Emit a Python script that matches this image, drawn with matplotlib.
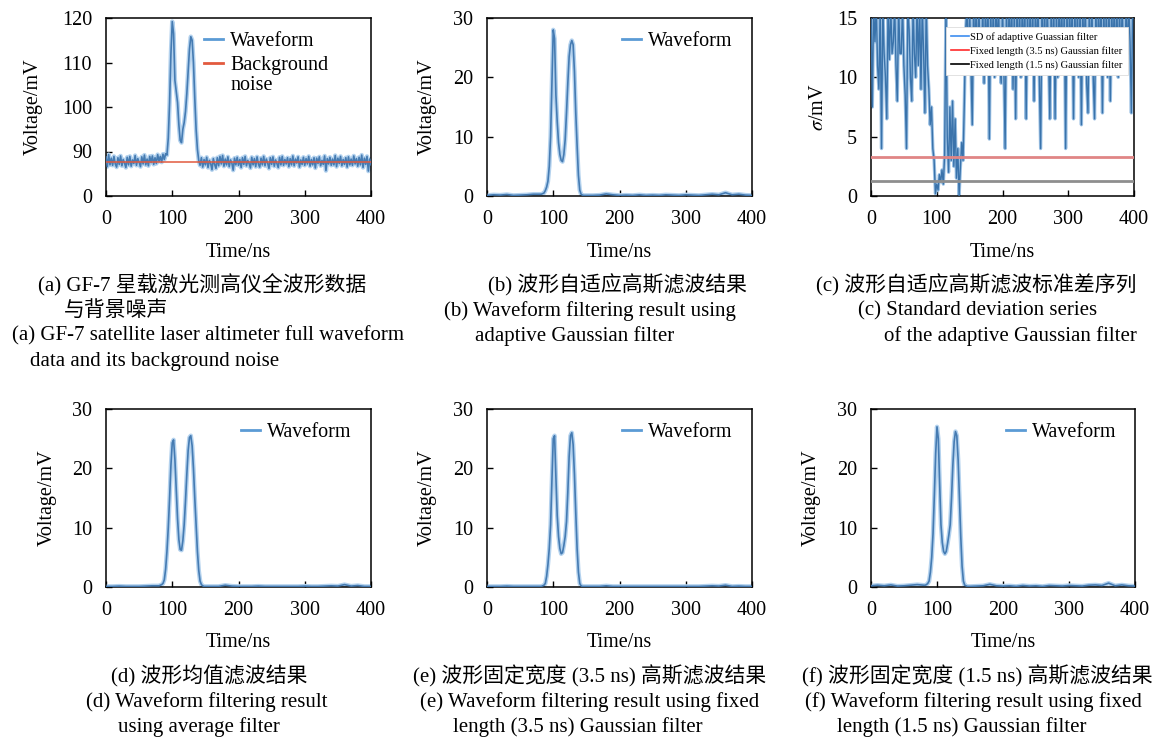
import numpy as np
import matplotlib
matplotlib.use("Agg")
import matplotlib.pyplot as plt
from matplotlib.lines import Line2D

plt.rcParams['font.family'] = ['Liberation Serif', 'Noto Sans CJK SC']
plt.rcParams['mathtext.fontset'] = 'stix'

W, H = 1158, 741

# ---- data -------------------------------------------------------------
# (a) raw waveform, one value every 2 ns from 0 to 400 ns
t_raw = np.arange(0, 401, 2)
raw_wave = [
    88.8, 86.6, 89.3, 87.0, 88.5, 86.9, 88.9, 87.2, 86.5, 88.6,
    87.1, 89.0, 86.8, 88.2, 87.4, 86.4, 88.7, 87.0, 88.9, 86.7,
    88.1, 87.3, 89.1, 86.9, 88.4, 87.6, 86.6, 88.8, 87.2, 89.2,
    87.0, 88.3, 86.8, 88.9, 87.5, 89.0, 87.1, 88.6, 87.3, 89.3,
    87.8, 88.9, 87.6, 89.4, 88.2, 89.5, 89.2, 93.0, 101.0, 112.0,
    119.2, 116.5, 106.0, 103.5, 101.0, 96.0, 92.5, 92.0, 95.0, 96.5,
    99.0, 103.0, 108.0, 113.0, 115.8, 115.0, 110.0, 102.0, 95.0, 90.5,
    88.0, 86.9, 88.6, 86.5, 88.2, 87.0, 88.7, 86.4, 88.0, 87.3,
    85.9, 88.4, 87.1, 86.2, 88.6, 86.8, 88.9, 87.2, 89.1, 86.7,
    88.3, 87.0, 88.8, 86.6, 88.1, 87.4, 85.8, 88.5, 87.0, 88.7,
    86.9, 88.2, 86.4, 88.6, 87.1, 88.9, 86.8, 88.0, 87.3, 86.3,
    88.7, 87.0, 88.4, 86.6, 88.8, 87.2, 86.5, 88.5, 87.0, 88.9,
    86.8, 88.3, 87.4, 86.2, 88.6, 87.1, 88.8, 86.7, 88.1, 87.3,
    86.4, 88.7, 87.0, 88.9, 86.9, 88.2, 87.2, 88.6, 86.6, 88.4,
    87.0, 89.0, 86.8, 88.3, 87.4, 88.8, 86.5, 88.1, 87.1, 88.7,
    86.9, 88.4, 87.2, 88.9, 86.7, 88.2, 87.0, 88.6, 86.3, 88.5,
    87.3, 88.8, 86.8, 88.0, 87.1, 89.0, 85.7, 88.4, 87.2, 88.7,
    86.9, 88.3, 87.0, 89.1, 86.6, 88.5, 87.3, 88.9, 86.8, 88.2,
    87.1, 88.6, 86.5, 88.8, 87.0, 88.3, 86.9, 89.0, 87.2, 88.4,
    86.7, 88.7, 87.0, 89.2, 86.4, 88.5, 87.1, 88.9, 85.6, 88.3,
    87.0,
]
background_noise = 87.7

# (c) standard deviation of the adaptive filter, every 2 ns (values above 15 are off-axis)
sd_adaptive = [
    16, 7.5, 16, 13, 16, 11, 9.0, 16, 4.0, 16,
    12, 10, 6.5, 16, 11.5, 16, 12, 13, 16, 11,
    8.0, 16, 12, 12, 16, 11, 8.5, 4.0, 16, 14,
    10, 8.0, 16, 12, 10, 16, 11, 16, 9.0, 16,
    12, 7.0, 16, 11, 9.0, 6.0, 7.5, 4.0, 3.0, 0.2,
    1.0, 0.5, 1.8, 1.2, 2.2, 1.0, 3.5, 16, 5.0, 2.0,
    7.5, 3.0, 8.0, 2.5, 6.5, 1.5, 4.0, 0.0, 2.5, 4.5,
    3.0, 8.0, 14, 16, 10.5, 16, 11, 6.0, 16, 12,
    16, 10.5, 16, 12, 11, 16, 9.5, 16, 12, 16,
    4.8, 16, 11, 16, 10, 16, 12.5, 16, 11, 9.5,
    16, 11, 4.0, 16, 10.5, 16, 12, 16, 9.0, 16,
    6.5, 16, 11, 16, 10, 16, 12, 16, 6.5, 16,
    10.5, 16, 11, 16, 8.0, 16, 12, 16, 10, 4.0,
    16, 11, 16, 10.5, 16, 12, 6.5, 16, 11, 16,
    6.5, 16, 10, 16, 12, 16, 11, 16, 4.0, 16,
    10.5, 16, 12, 16, 6.5, 16, 11, 16, 10, 16,
    6.0, 16, 12, 16, 9.5, 7.0, 16, 11, 16, 10,
    6.5, 16, 10.5, 16, 12, 16, 7.0, 16, 11, 16,
    10, 16, 8.0, 16, 12, 16, 11, 16, 10, 16,
    11, 16, 12, 10.5, 16, 12, 16, 13, 7.0, 16,
    15,
]
sd_fixed_35 = 3.3
sd_fixed_15 = 1.3

# filtered waveforms: sampled every 10 ns on the baseline, every 2 ns over the pulse
t_filt = np.concatenate([np.arange(0, 80, 10), np.arange(80, 151, 2), np.arange(160, 401, 10)])

wave_adaptive = [
    0.1, 0.2, 0.15, 0.25, 0.1, 0.15, 0.2, 0.3,
    0.3, 0.3, 0.4, 0.5, 0.9, 1.5, 2.5, 5.0, 10.0, 19.0,
    28.0, 26.5, 17.0, 12.5, 9.0, 7.0, 6.0, 5.8, 7.0, 9.5,
    14.0, 19.0, 23.5, 25.5, 26.2, 25.5, 21.0, 14.0, 8.5, 3.5,
    1.0, 0.3, 0.15, 0.1, 0.1, 0.1,
    0.1, 0.15, 0.35, 0.2, 0.1, 0.15, 0.1, 0.2, 0.1, 0.15, 0.1, 0.2,
    0.15, 0.1, 0.2, 0.15, 0.1, 0.2, 0.3, 0.2, 0.55, 0.2, 0.3, 0.15, 0.1,
]
wave_average = [
    0.1, 0.1, 0.15, 0.1, 0.1, 0.1, 0.15, 0.2,
    0.2, 0.3, 0.4, 0.6, 1.2, 3.0, 6.0, 10.0, 15.0, 20.5,
    24.3, 24.8, 21.5, 16.5, 11.5, 8.0, 6.3, 6.2, 7.8, 10.5,
    14.5, 19.0, 23.0, 25.2, 25.5, 23.8, 20.0, 15.0, 10.5, 6.0,
    2.8, 1.0, 0.4, 0.2, 0.1, 0.1,
    0.1, 0.1, 0.3, 0.15, 0.1, 0.1, 0.1, 0.15, 0.1, 0.1, 0.1, 0.1,
    0.1, 0.1, 0.15, 0.1, 0.1, 0.15, 0.2, 0.15, 0.4, 0.15, 0.25, 0.1, 0.1,
]
wave_fixed_35 = [
    0.1, 0.1, 0.1, 0.15, 0.1, 0.1, 0.1, 0.1,
    0.1, 0.1, 0.2, 0.3, 0.6, 1.8, 3.8, 6.5, 10.5, 18.0,
    25.0, 25.5, 18.5, 12.0, 8.5, 6.5, 5.6, 5.8, 7.0, 8.5,
    11.0, 16.0, 22.0, 25.5, 26.0, 24.0, 19.0, 12.5, 6.5, 2.5,
    0.6, 0.2, 0.1, 0.1, 0.1, 0.1,
    0.1, 0.1, 0.2, 0.1, 0.1, 0.1, 0.1, 0.1, 0.1, 0.1, 0.1, 0.1,
    0.1, 0.1, 0.1, 0.1, 0.1, 0.15, 0.2, 0.15, 0.3, 0.1, 0.15, 0.1, 0.1,
]
wave_fixed_15 = [
    0.2, 0.3, 0.2, 0.35, 0.15, 0.2, 0.3, 0.4,
    0.3, 0.3, 0.4, 0.6, 1.0, 2.5, 5.0, 9.0, 15.5, 22.5,
    27.0, 25.0, 17.5, 10.5, 7.5, 6.0, 5.6, 6.0, 7.3, 8.8,
    10.5, 15.0, 20.5, 24.5, 26.2, 25.5, 21.5, 15.0, 8.5, 3.5,
    1.0, 0.3, 0.2, 0.1, 0.1, 0.1,
    0.15, 0.2, 0.45, 0.2, 0.15, 0.2, 0.1, 0.25, 0.15, 0.2, 0.1, 0.25,
    0.2, 0.15, 0.25, 0.2, 0.15, 0.3, 0.35, 0.25, 0.65, 0.2, 0.35, 0.2, 0.15,
]

x_ticks = [0, 100, 200, 300, 400]

captions = {
    'a': [("(a) GF-7 星载激光测高仪全波形数据", 'center', 202, 285),
          ("与背景噪声", 'left', 64, 311),
          ("(a) GF-7 satellite laser altimeter full waveform", 'center', 208, 336),
          ("data and its background noise", 'left', 30, 362)],
    'b': [("(b) 波形自适应高斯滤波结果", 'center', 618, 285),
          ("(b) Waveform filtering result using", 'center', 590, 311),
          ("adaptive Gaussian filter", 'left', 475, 336)],
    'c': [("(c) 波形自适应高斯滤波标准差序列", 'center', 976, 285),
          ("(c) Standard deviation series", 'center', 978, 311),
          ("of the adaptive Gaussian filter", 'center', 1010, 336)],
    'd': [("(d) 波形均值滤波结果", 'center', 209, 676),
          ("(d) Waveform filtering result", 'center', 207, 702),
          ("using average filter", 'left', 118, 727)],
    'e': [("(e) 波形固定宽度 (3.5 ns) 高斯滤波结果", 'center', 590, 676),
          ("(e) Waveform filtering result using fixed", 'center', 590, 702),
          ("length (3.5 ns) Gaussian filter", 'left', 453, 727)],
    'f': [("(f) 波形固定宽度 (1.5 ns) 高斯滤波结果", 'center', 977, 676),
          ("(f) Waveform filtering result using fixed", 'center', 973, 702),
          ("length (1.5 ns) Gaussian filter", 'left', 837, 727)],
}

# ---- styles -----------------------------------------------------------
LINE = '#457bb2'
HALO = '#b4d2ee'
HANDLE = '#5b9bd5'
FS = 14.5


def make_axes(fig, left, top, right, bottom):
    ax = fig.add_axes([left / W, 1 - bottom / H, (right - left) / W, (bottom - top) / H])
    for s in ax.spines.values():
        s.set_linewidth(1.1)
    ax.tick_params(direction='in', length=4, width=1, labelsize=FS, pad=10,
                   top=False, right=False)
    ax.set_xlim(0, 400)
    ax.set_xticks(x_ticks)
    return ax


def labels(ax, ylabel, ylab_x, xlab_y):
    ax.set_xlabel('Time/ns', fontsize=FS, va='center')
    ax.xaxis.set_label_coords(0.5, xlab_y)
    ax.set_ylabel(ylabel, fontsize=FS, va='center')
    ax.yaxis.set_label_coords(ylab_x, 0.5)


def wave(ax, t, y):
    ax.plot(t, y, color=HALO, lw=3.2, solid_capstyle='round', zorder=2)
    ax.plot(t, y, color=LINE, lw=1.2, zorder=3)


def wave_legend(ax, x0):
    h = [Line2D([], [], color=HANDLE, lw=2)]
    ax.legend(h, ['Waveform'], loc='upper left', bbox_to_anchor=(x0, 0.92),
              frameon=False, fontsize=FS, handlelength=0.95, handletextpad=0.35,
              borderpad=0, borderaxespad=0)


fig = plt.figure(figsize=(W / 100, H / 100), dpi=100)

# (a)
ax = make_axes(fig, 106, 18, 371, 196)
wave(ax, t_raw, raw_wave)
ax.plot([0, 400], [background_noise, background_noise], color='#e25a3e', lw=1.1, zorder=4)
ax.set_ylim(80, 120)
ax.set_yticks([80, 90, 100, 110, 120])
ax.set_yticklabels(['0', '90', '100', '110', '120'])
labels(ax, 'Voltage/mV', -0.275, -0.318)
ax.legend([Line2D([], [], color=HANDLE, lw=2), Line2D([], [], color='#e25a3e', lw=2)],
          ['Waveform', 'Background'], loc='upper left', bbox_to_anchor=(0.37, 0.92),
          frameon=False, fontsize=FS, handlelength=0.95, handletextpad=0.35,
          labelspacing=0.25, borderpad=0, borderaxespad=0)
ax.text(0.468, (196 - 85) / 178, 'noise', transform=ax.transAxes, fontsize=FS, va='center')

# (b)
ax = make_axes(fig, 487, 18, 752, 196)
wave(ax, t_filt, wave_adaptive)
ax.set_ylim(0, 30)
ax.set_yticks([0, 10, 20, 30])
labels(ax, 'Voltage/mV', -0.226, -0.318)
wave_legend(ax, 0.509)

# (c)
ax = make_axes(fig, 871, 18, 1134, 196)
ax.plot(t_raw, sd_adaptive, color='#9cc1e4', lw=2.4, zorder=2)
ax.plot(t_raw, sd_adaptive, color='#3a73ab', lw=1.0, zorder=3)
ax.axhline(sd_fixed_35, color='#e08585', lw=2.0, zorder=4)
ax.axhline(sd_fixed_15, color='#8e8e8e', lw=2.0, zorder=4)
ax.set_ylim(0, 15)
ax.set_yticks([0, 5, 10, 15])
labels(ax, r'$\sigma$/mV', -0.2, -0.318)
leg = ax.legend([Line2D([], [], color='#3d8ef0', lw=1.2),
                 Line2D([], [], color='#ff2a2a', lw=1.2),
                 Line2D([], [], color='black', lw=1.2)],
                ['SD of adaptive Guassian filter',
                 'Fixed length (3.5 ns) Gaussian filter',
                 'Fixed length (1.5 ns) Gaussian filter'],
                loc='upper right', bbox_to_anchor=(0.977, 0.949), borderaxespad=0,
                fontsize=7.6, handlelength=1.7, handletextpad=0.1, labelspacing=0.38,
                borderpad=0.5, fancybox=False, framealpha=1, edgecolor='#dddddd')
leg.get_frame().set_linewidth(0.6)
leg.set_zorder(10)

# (d)
ax = make_axes(fig, 106, 409, 371, 587)
wave(ax, t_filt, wave_average)
ax.set_ylim(0, 30)
ax.set_yticks([0, 10, 20, 30])
labels(ax, 'Voltage/mV', -0.223, -0.31)
wave_legend(ax, 0.509)

# (e)
ax = make_axes(fig, 487, 409, 752, 587)
wave(ax, t_filt, wave_fixed_35)
ax.set_ylim(0, 30)
ax.set_yticks([0, 10, 20, 30])
labels(ax, 'Voltage/mV', -0.226, -0.31)
wave_legend(ax, 0.509)

# (f)
ax = make_axes(fig, 871, 409, 1135, 587)
wave(ax, t_filt, wave_fixed_15)
ax.set_ylim(0, 30)
ax.set_yticks([0, 10, 20, 30])
labels(ax, 'Voltage/mV', -0.227, -0.31)
wave_legend(ax, 0.511)

for key, lines in captions.items():
    for text, ha, x, y in lines:
        fig.text(x / W, 1 - y / H, text, ha=ha, va='center', fontsize=15)

fig.savefig('out.png', dpi=100)
